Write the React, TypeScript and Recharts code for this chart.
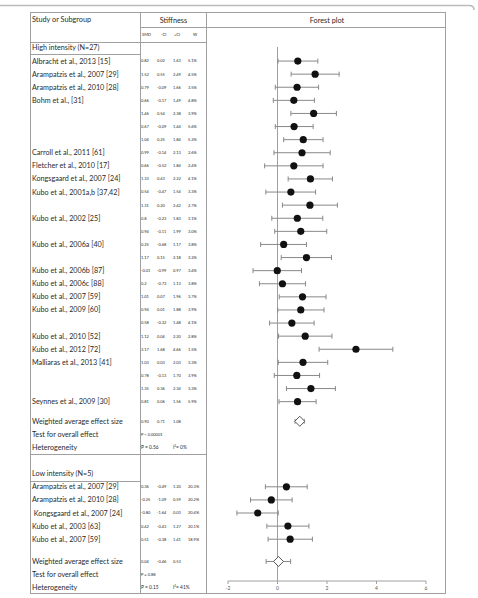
import { ScatterChart, Scatter, XAxis, YAxis, ErrorBar, ReferenceLine } from 'recharts';

// high intensity studies (decimal comma kept as printed for Bohm)
const highNames = [
  'Albracht et al., 2013 [15]',
  'Arampatzis et al., 2007 [29]',
  'Arampatzis et al., 2010 [28]',
  'Bohm et al., [31]',
  '',
  '',
  '',
  'Carroll et al., 2011 [61]',
  'Fletcher et al., 2010 [17]',
  'Kongsgaard et al., 2007 [24]',
  'Kubo et al., 2001a,b [37,42]',
  '',
  'Kubo et al., 2002 [25]',
  '',
  'Kubo et al., 2006a [40]',
  '',
  'Kubo et al., 2006b [87]',
  'Kubo et al., 2006c [88]',
  'Kubo et al., 2007 [59]',
  'Kubo et al., 2009 [60]',
  '',
  'Kubo et al., 2010 [52]',
  'Kubo et al., 2012 [72]',
  'Malliaras et al., 2013 [41]',
  '',
  '',
  'Seynnes et al., 2009 [30]',
];
const highSmd = ['0.82', '1.52', '0.79', '0,66', '1,46', '0,67', '1,04', '0.99', '0.66', '1.33', '0.54', '1.31', '0.8', '0.94', '0.25', '1.17', '-0.01', '0.2', '1.01', '0.94', '0.58', '1.12', '3.17', '1.03', '0.78', '1.35', '0.81'];
const highLo = ['0.02', '0.55', '-0.09', '-0,17', '0,54', '-0,09', '0,25', '-0.14', '-0.52', '0.43', '-0.47', '0.20', '-0.23', '-0.11', '-0.68', '0.15', '-0.99', '-0.73', '0.07', '0.01', '-0.32', '0.04', '1.68', '0.03', '-0.13', '0.36', '0.06'];
const highHi = ['1.63', '2.49', '1.66', '1,49', '2,38', '1,44', '1,84', '2.13', '1.84', '2.22', '1.54', '2.42', '1.83', '1.99', '1.17', '2.18', '0.97', '1.13', '1.96', '1.88', '1.48', '2.20', '4.66', '2.03', '1.70', '2.34', '1.56'];
const highW = ['5.1%', '4.5%', '3.5%', '4.8%', '3.9%', '5.6%', '5.2%', '2.6%', '2.4%', '4.1%', '3.3%', '2.7%', '3.1%', '3.0%', '3.8%', '3.2%', '3.4%', '3.8%', '3.7%', '3.9%', '4.1%', '2.8%', '1.5%', '3.3%', '3.9%', '3.3%', '5.9%'];

const lowNames = [
  'Arampatzis et al., 2007 [29]',
  'Arampatzis et al., 2010 [28]',
  '\u00a0Kongsgaard et al., 2007 [24]',
  'Kubo et al., 2003 [63]',
  'Kubo et al., 2007 [59]',
];
const lowSmd = ['0.36', '-0.25', '-0.80', '0.42', '0.51'];
const lowLo = ['-0.49', '-1.09', '-1.64', '-0.43', '-0.38'];
const lowHi = ['1.20', '0.59', '0.03', '1.27', '1.41'];
const lowW = ['20.3%', '20.2%', '20.4%', '20.1%', '18.9%'];

// pooled: smd, lower, upper
const highPooled = ['0.90', '0.71', '1.08'];
const lowPooled = ['0.04', '-0.46', '0.53'];
const highTest = 'P < 0.00001';
const lowTest = 'P = 0.88';
const highHet = ['P = 0.56', '0%'];
const lowHet = ['P = 0.15', '41%'];

const xTicks = [-2, 0, 2, 4, 6];

const num = (s: string) => Number(s.replace(',', '.'));

// row slots (in table rows)
const highStart = 0;
const highPoolRow = 27.5;
const lowStart = 32.5;
const lowPoolRow = 38.2;

type Row = {
  r: number;
  name: string;
  cells?: string[];
  test?: string;
  het?: string[];
};

const tableRows: Row[] = [
  { r: -1, name: 'High intensity (N=27)' },
  ...highNames.map((n, i) => ({ r: highStart + i, name: n, cells: [highSmd[i], highLo[i], highHi[i], highW[i]] })),
  { r: highPoolRow, name: 'Weighted average effect size', cells: highPooled },
  { r: highPoolRow + 1, name: 'Test for overall effect', test: highTest },
  { r: highPoolRow + 2, name: 'Heterogeneity', het: highHet },
  { r: 31.5, name: 'Low intensity (N=5)' },
  ...lowNames.map((n, i) => ({ r: lowStart + i, name: n, cells: [lowSmd[i], lowLo[i], lowHi[i], lowW[i]] })),
  { r: lowPoolRow, name: 'Weighted average effect size', cells: lowPooled },
  { r: lowPoolRow + 1, name: 'Test for overall effect', test: lowTest },
  { r: lowPoolRow + 2, name: 'Heterogeneity', het: lowHet },
];

const highPoints = highSmd.map((s, i) => {
  const v = num(s);
  return { x: v, y: highStart + i, err: [v - num(highLo[i]), num(highHi[i]) - v] };
});
const lowPoints = lowSmd.map((s, i) => {
  const v = num(s);
  return { x: v, y: lowStart + i, err: [v - num(lowLo[i]), num(lowHi[i]) - v] };
});
const pooledPoints = [
  { x: num(highPooled[0]), y: highPoolRow, err: [num(highPooled[0]) - num(highPooled[1]), num(highPooled[2]) - num(highPooled[0])] },
  { x: num(lowPooled[0]), y: lowPoolRow, err: [num(lowPooled[0]) - num(lowPooled[1]), num(lowPooled[2]) - num(lowPooled[0])] },
];

const FONT = 'Lato, "Open Sans", sans-serif';
const colX = [141, 157, 173, 188];

const RowTick = (props: any) => {
  const { y, payload } = props;
  const row = tableRows.find((t) => Math.abs(t.r - payload.value) < 1e-6);
  if (!row) return null;
  return (
    <g fontFamily={FONT} fill="#2a2a2a">
      <text x={32} y={y} dy="0.35em" fontSize={7.2} textAnchor="start">
        {row.name}
      </text>
      {row.cells &&
        row.cells.map((c, k) => (
          <text key={k} x={colX[k]} y={y} dy="0.35em" fontSize={4} textAnchor="start">
            {c}
          </text>
        ))}
      {row.test && (
        <text x={141} y={y} dy="0.35em" fontSize={4} textAnchor="start">
          {row.test}
        </text>
      )}
      {row.het && (
        <g>
          <text x={141} y={y} dy="0.35em" fontSize={4.8} textAnchor="start">
            {row.het[0]}
          </text>
          <text x={173} y={y} dy="0.35em" fontSize={4.8} textAnchor="start">
            I<tspan dy="-2" fontSize={3}>2</tspan>
            <tspan dy="2">= {row.het[1]}</tspan>
          </text>
        </g>
      )}
    </g>
  );
};

const Dot = (p: any) => <circle cx={p.cx} cy={p.cy} r={3.6} fill="#111" />;

const Diamond = (p: any) => {
  const { cx, cy } = p;
  const h = 5;
  return (
    <polygon
      points={`${cx - h},${cy} ${cx},${cy - h} ${cx + h},${cy} ${cx},${cy + h}`}
      fill="#fff"
      stroke="#444"
      strokeWidth={0.9}
    />
  );
};

const line = '#a0a0a0';

export default function App() {
  return (
    <div style={{ position: 'absolute', left: 0, top: 0, width: 478, height: 598, background: '#fff' }}>
      <ScatterChart width={478} height={598} margin={{ top: 0, right: 52, bottom: 0, left: 0 }}>
        <XAxis
          type="number"
          dataKey="x"
          domain={[-2, 6]}
          ticks={xTicks}
          interval={0}
          height={17}
          stroke={line}
          tickSize={3}
          tick={{ fontSize: 5, fill: '#555', fontFamily: FONT }}
        />
        <YAxis
          type="number"
          dataKey="y"
          domain={[-4.66, 39.69]}
          reversed
          allowDataOverflow
          width={228}
          axisLine={false}
          tickLine={false}
          ticks={tableRows.map((t) => t.r)}
          interval={0}
          tick={RowTick}
        />
        <ReferenceLine
          segment={[
            { x: 0, y: -1.07 },
            { x: 0, y: 39.69 },
          ]}
          stroke={line}
        />
        <Scatter data={highPoints} shape={Dot} isAnimationActive={false}>
          <ErrorBar dataKey="err" direction="x" width={2.5} stroke="#888" strokeWidth={1} />
        </Scatter>
        <Scatter data={lowPoints} shape={Dot} isAnimationActive={false}>
          <ErrorBar dataKey="err" direction="x" width={2.5} stroke="#888" strokeWidth={1} />
        </Scatter>
        <Scatter data={pooledPoints} shape={Diamond} isAnimationActive={false}>
          <ErrorBar dataKey="err" direction="x" width={2.5} stroke="#888" strokeWidth={1} />
        </Scatter>
      </ScatterChart>
      <svg
        width={478}
        height={598}
        style={{ position: 'absolute', left: 0, top: 0, pointerEvents: 'none' }}
      >
        <path d="M0 5.5 H469 Q474 5.5 474 10" fill="none" stroke="#bbb" strokeWidth={1.5} />
        <g stroke={line} strokeWidth={1}>
          <line x1={30.5} y1={12} x2={30.5} y2={594} />
          <line x1={140.5} y1={12} x2={140.5} y2={594} />
          <line x1={206.5} y1={12} x2={206.5} y2={594} />
          <line x1={445.5} y1={12} x2={445.5} y2={594} />
          <line x1={30} y1={12.5} x2={446} y2={12.5} />
          <line x1={140} y1={27.5} x2={446} y2={27.5} />
          <line x1={30} y1={42.5} x2={207} y2={42.5} />
          <line x1={30} y1={54.5} x2={141} y2={54.5} />
          <line x1={30} y1={454.5} x2={207} y2={454.5} />
          <line x1={30} y1={481.5} x2={141} y2={481.5} />
          <line x1={30} y1={593.5} x2={446} y2={593.5} />
        </g>
        <g fontFamily={FONT} fill="#2a2a2a">
          <text x={32} y={19} dy="0.35em" fontSize={7.3}>
            Study or Subgroup
          </text>
          <text x={173.5} y={20} dy="0.35em" fontSize={7.3} textAnchor="middle">
            Stiffness
          </text>
          <text x={327} y={20} dy="0.35em" fontSize={7.3} textAnchor="middle">
            Forest plot
          </text>
          <text x={142} y={35} dy="0.35em" fontSize={4}>
            SMD
          </text>
          <text x={161} y={35} dy="0.35em" fontSize={4}>
            -CI
          </text>
          <text x={174} y={35} dy="0.35em" fontSize={4}>
            +CI
          </text>
          <text x={193} y={35} dy="0.35em" fontSize={4}>
            W
          </text>
        </g>
      </svg>
    </div>
  );
}
